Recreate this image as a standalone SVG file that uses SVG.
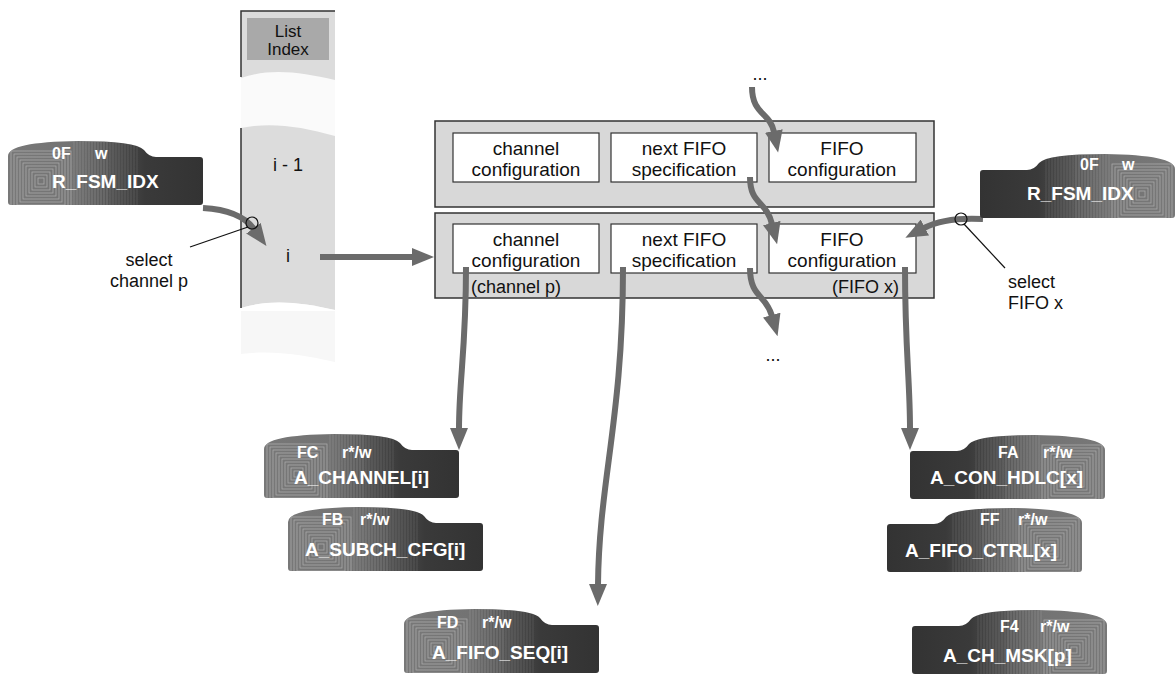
<svg xmlns="http://www.w3.org/2000/svg" xmlns:xlink="http://www.w3.org/1999/xlink" width="1175" height="675" viewBox="0 0 1175 675">
<style>
.t{font-family:"Liberation Sans",Arial,sans-serif;fill:#111;}
.b{font-size:19px;text-anchor:middle;}
.s{font-size:18px;}
.h{font-size:17px;text-anchor:middle;}
.rn{font-family:"Liberation Sans",Arial,sans-serif;font-weight:bold;fill:#fff;font-size:19px;}
.rs{font-family:"Liberation Sans",Arial,sans-serif;font-weight:bold;fill:#fff;font-size:16px;}
.outer{fill:#d8d8d8;stroke:#333;stroke-width:1.5;}
.inner{fill:#fff;stroke:#333;stroke-width:1.2;}
.con{fill:none;stroke:#6b6b6b;stroke-width:6;marker-end:url(#ah);}
.lead{fill:none;stroke:#111;stroke-width:1.2;}
</style>
<defs>
<marker id="ah" markerUnits="userSpaceOnUse" markerWidth="22" markerHeight="18" viewBox="0 0 22 18" refX="1" refY="9" orient="auto"><path d="M0,0 L22,9 L0,18 Z" fill="#6b6b6b"/></marker>
<clipPath id="rc"><path d="M0,61 L0,15 Q0,1 70,0 Q128,0 136,9 Q141,16 148,16 L192,16 Q195,16 195,19 L195,61 Q195,64 192,64 L3,64 Q0,64 0,61 Z"/></clipPath>
<linearGradient id="rg" gradientUnits="userSpaceOnUse" x1="0" y1="0" x2="195" y2="0"><stop offset="0" stop-color="#787878"/><stop offset="0.33" stop-color="#737373"/><stop offset="0.70" stop-color="#3a3a3a"/><stop offset="1" stop-color="#333"/></linearGradient>
<g id="reg">
<g clip-path="url(#rc)">
<rect x="0" y="0" width="195" height="64" fill="url(#rg)"/>
<g fill="none" stroke="#aaaaaa" stroke-width="0.8">
<rect x="30" y="37" width="6" height="6"/><rect x="27" y="34" width="12" height="12"/><rect x="24" y="31" width="18" height="18"/><rect x="21" y="28" width="24" height="24"/><rect x="18" y="25" width="30" height="30"/><rect x="15" y="22" width="36" height="36"/><rect x="12" y="19" width="42" height="42"/><rect x="9" y="16" width="48" height="48"/><rect x="6" y="13" width="54" height="54"/><rect x="3" y="10" width="60" height="60"/>
</g>
<g stroke="#a0a0a0" stroke-width="0.7" opacity="0.6">
<path d="M66,0V64M69,0V64M72,0V64M75,0V64M78,0V64M81,0V64M84,0V64M87,0V64M90,0V64M93,0V64M96,0V64M99,0V64"/>
</g>
<g stroke="#a0a0a0" stroke-width="0.7" opacity="0.3">
<path d="M102,0V64M105,0V64M108,0V64M111,0V64M114,0V64M117,0V64M120,0V64M123,0V64M126,0V64M129,0V64"/>
</g>
</g>
</g>
</defs>
<rect width="1175" height="675" fill="#fff"/>

<g id="list-index">
<rect x="241" y="11" width="94" height="300" fill="#dcdcdc"/>
<path d="M241,308 C270,299 300,302 335,310 L335,362 C300,354 270,350 241,354 Z" fill="#f7f7f7"/>
<path d="M241,78 C270,68 300,72 335,80 L335,136 C300,126 270,122 241,128 Z" fill="#fafafa"/>
<path d="M241,311 L241,308 C270,299 300,302 335,310 L335,311 Z" fill="#fff"/>
<path d="M241,77 L241,11 L335,11 M241,128 L241,308" fill="none" stroke="#333" stroke-width="1.5"/>
<rect x="247" y="18" width="82" height="42" fill="#a9a9a9"/>
<text class="t h" x="288" y="37">List</text>
<text class="t h" x="288" y="55">Index</text>
<text class="t s" x="288" y="171" text-anchor="middle">i - 1</text>
<text class="t s" x="288" y="262" text-anchor="middle">i</text>
</g>

<g id="entry-upper">
<rect class="outer" x="435" y="121" width="499" height="86"/>
<rect class="inner" x="453" y="133" width="146" height="49"/>
<text class="t b" x="526" y="155">channel</text><text class="t b" x="526" y="176">configuration</text>
<rect class="inner" x="611" y="133" width="146" height="49"/>
<text class="t b" x="684" y="155">next FIFO</text><text class="t b" x="684" y="176">specification</text>
<rect class="inner" x="769" y="133" width="147" height="49"/>
<text class="t b" x="842" y="155">FIFO</text><text class="t b" x="842" y="176">configuration</text>
</g>

<g id="entry-lower">
<rect class="outer" x="435" y="213" width="499" height="85"/>
<rect class="inner" x="453" y="224" width="146" height="49"/>
<text class="t b" x="526" y="246">channel</text><text class="t b" x="526" y="267">configuration</text>
<rect class="inner" x="611" y="224" width="146" height="49"/>
<text class="t b" x="684" y="246">next FIFO</text><text class="t b" x="684" y="267">specification</text>
<rect class="inner" x="769" y="224" width="147" height="49"/>
<text class="t b" x="842" y="246">FIFO</text><text class="t b" x="842" y="267">configuration</text>
<text class="t s" x="471" y="293">(channel p)</text>
<text class="t s" x="899" y="293" text-anchor="end">(FIFO x)</text>
</g>

<g id="connectors">
<path class="con" d="M203,208 Q240,210 254,229"/>
<path class="con" d="M320,257 L413,257"/>
<path class="con" d="M752,87 C752,115 770,112 774,132"/>
<path class="con" d="M750,177 C750,205 766,200 772,224"/>
<path class="con" d="M750,268 C750,298 766,294 772,316"/>
<path class="con" d="M983,219 Q945,217 924,228"/>
<path class="con" d="M466,267 C466,350 459,380 459,429"/>
<path class="con" d="M623,267 C623,420 599,480 598,585"/>
<path class="con" d="M905,267 C905,350 910,380 910,429"/>
<circle cx="252" cy="223" r="6" fill="none" stroke="#111" stroke-width="1.2"/>
<path class="lead" d="M248,227 L190,247"/>
<circle cx="961" cy="219" r="6" fill="none" stroke="#111" stroke-width="1.2"/>
<path class="lead" d="M964,224 L1005,268"/>
<text class="t s" x="760" y="80" text-anchor="middle">...</text>
<text class="t s" x="773" y="361" text-anchor="middle">...</text>
<text class="t s" x="149" y="266" text-anchor="middle">select</text>
<text class="t s" x="149" y="287" text-anchor="middle">channel p</text>
<text class="t s" x="1008" y="288">select</text>
<text class="t s" x="1008" y="309">FIFO x</text>
</g>

<g id="reg-r-fsm-idx-left">
<use xlink:href="#reg" href="#reg" transform="translate(8,141)"/>
<text class="rs" x="52" y="159">0F</text><text class="rs" x="95" y="159">w</text>
<text class="rn" x="52" y="188">R_FSM_IDX</text>
</g>
<g id="reg-r-fsm-idx-right">
<use xlink:href="#reg" href="#reg" transform="translate(1175,154) scale(-1,1)"/>
<text class="rs" x="1080" y="170">0F</text><text class="rs" x="1122" y="170">w</text>
<text class="rn" x="1027" y="200">R_FSM_IDX</text>
</g>
<g id="reg-a-channel">
<use xlink:href="#reg" href="#reg" transform="translate(264,434)"/>
<text class="rs" x="297" y="458">FC</text><text class="rs" x="342" y="458">r*/w</text>
<text class="rn" x="294" y="484">A_CHANNEL[i]</text>
</g>
<g id="reg-a-subch-cfg">
<use xlink:href="#reg" href="#reg" transform="translate(288,507)"/>
<text class="rs" x="322" y="525">FB</text><text class="rs" x="360" y="525">r*/w</text>
<text class="rn" x="305" y="556">A_SUBCH_CFG[i]</text>
</g>
<g id="reg-a-fifo-seq">
<use xlink:href="#reg" href="#reg" transform="translate(404,609)"/>
<text class="rs" x="437" y="628">FD</text><text class="rs" x="482" y="628">r*/w</text>
<text class="rn" x="432" y="659">A_FIFO_SEQ[i]</text>
</g>
<g id="reg-a-con-hdlc">
<use xlink:href="#reg" href="#reg" transform="translate(1105,435) scale(-1,1)"/>
<text class="rs" x="998" y="458">FA</text><text class="rs" x="1043" y="458">r*/w</text>
<text class="rn" x="930" y="484">A_CON_HDLC[x]</text>
</g>
<g id="reg-a-fifo-ctrl">
<use xlink:href="#reg" href="#reg" transform="translate(1082,508) scale(-1,1)"/>
<text class="rs" x="980" y="525">FF</text><text class="rs" x="1018" y="525">r*/w</text>
<text class="rn" x="905" y="557">A_FIFO_CTRL[x]</text>
</g>
<g id="reg-a-ch-msk">
<use xlink:href="#reg" href="#reg" transform="translate(1107,610) scale(-1,1)"/>
<text class="rs" x="1000" y="632">F4</text><text class="rs" x="1040" y="632">r*/w</text>
<text class="rn" x="943" y="662">A_CH_MSK[p]</text>
</g>
</svg>
